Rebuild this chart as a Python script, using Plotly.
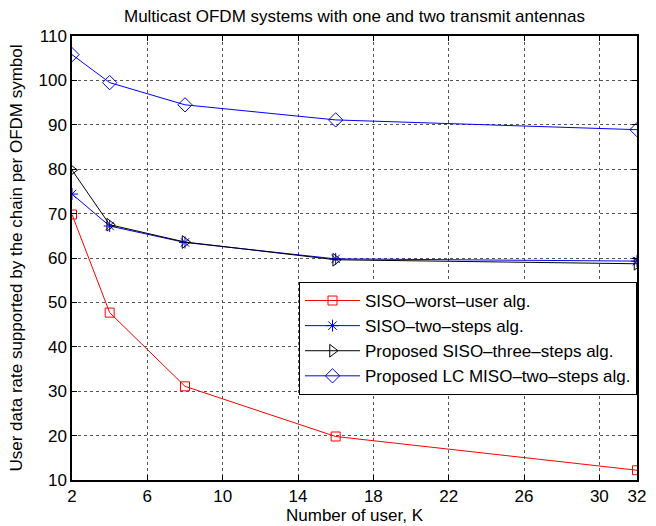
import plotly.graph_objects as go

K = [2, 4, 8, 16, 32]
siso_worst = [69.8, 47.7, 31.1, 19.8, 12.2]
siso_two = [74.4, 67.2, 63.5, 59.8, 59.3]
siso_three = [79.8, 67.5, 63.6, 59.6, 58.7]
miso_two = [105.8, 99.5, 94.5, 91.1, 88.9]

names = ["SISO\u2013worst\u2013user alg.", "SISO\u2013two\u2013steps alg.",
         "Proposed SISO\u2013three\u2013steps alg.", "Proposed LC MISO\u2013two\u2013steps alg."]
xticks = [2, 6, 10, 14, 18, 22, 26, 30, 32]
yticks = list(range(10, 111, 10))

fig = go.Figure()
series = [
    (siso_worst, "red", "square-open", 9),
    (siso_two, "blue", "asterisk-open", 10),
    (siso_three, "black", "triangle-right-open", 11),
    (miso_two, "blue", "diamond-open", 11),
]
for (y, c, sym, sz), n in zip(series, names):
    fig.add_trace(go.Scatter(x=K, y=y, name=n, mode="lines+markers",
                             line=dict(color=c, width=1),
                             marker=dict(symbol=sym, size=sz, color=c, line=dict(width=1, color=c))))

FS = 17
ax = dict(showline=True, linecolor="black", linewidth=1.5, mirror="allticks", ticks="inside",
          ticklen=5, tickcolor="black", showgrid=True, gridcolor="#555", griddash="dot",
          gridwidth=1, zeroline=False, tickfont=dict(size=FS, color="black"))
fig.update_xaxes(range=[2, 32], tickvals=xticks,
                 title=dict(text="Number of user, K", font=dict(size=FS), standoff=0), **ax)
fig.update_yaxes(range=[10, 110], tickvals=yticks,
                 title=dict(text="User data rate supported by the chain per OFDM symbol", font=dict(size=FS), standoff=12), **ax)

fig.update_layout(
    width=656, height=526,
    margin=dict(l=72, r=19, t=36, b=46, autoexpand=False),
    paper_bgcolor="white", plot_bgcolor="white",
    font=dict(family="Liberation Sans, Arial", color="black", size=FS),
    title=dict(text="Multicast OFDM systems with one and two transmit antennas", xref="paper", x=0.5,
               xanchor="center", y=0.97, yanchor="middle", font=dict(size=FS)),
    legend=dict(x=1.0, xanchor="right", y=0.446, yanchor="top", bgcolor="white",
                bordercolor="black", borderwidth=1, font=dict(size=FS), tracegroupgap=0,
                itemwidth=55),
    showlegend=True,
)
fig.write_html("out.html")
